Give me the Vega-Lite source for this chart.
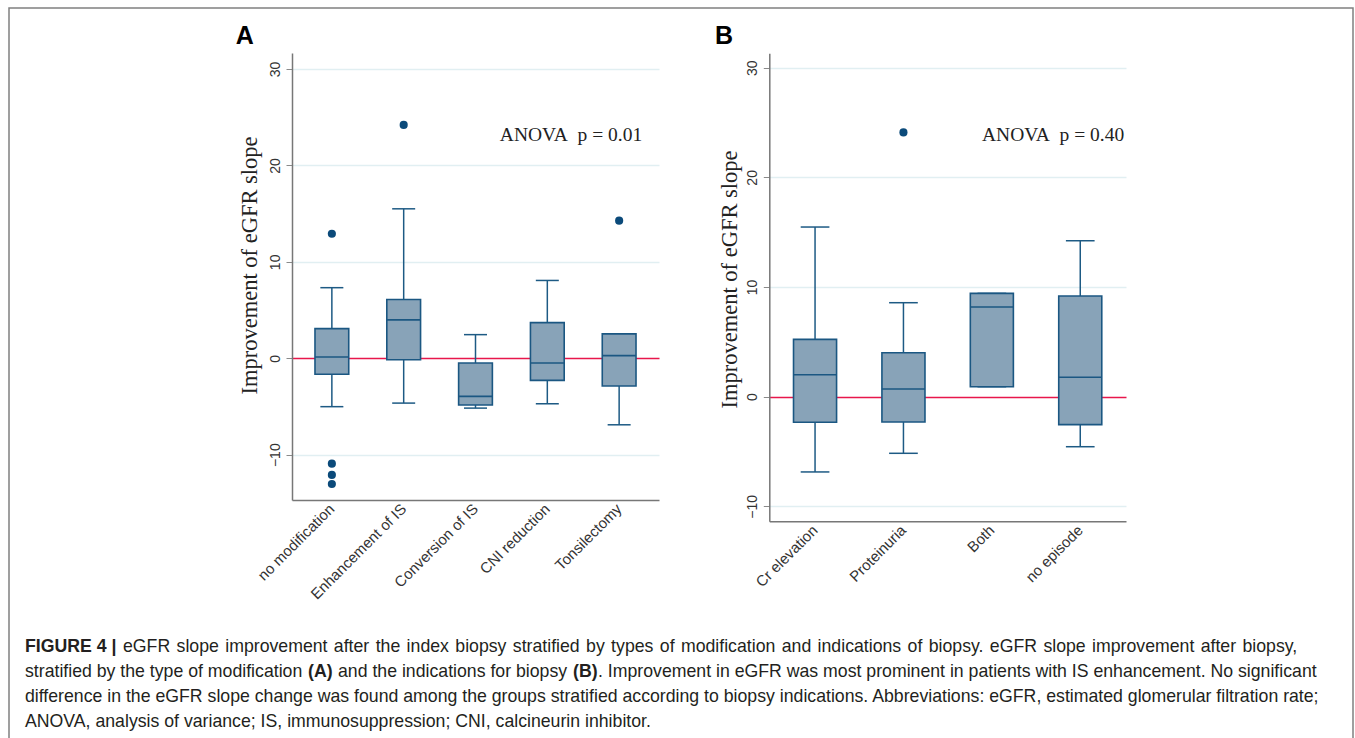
{
  "$schema": "https://vega.github.io/schema/vega-lite/v6.json",
  "width": 1344,
  "height": 760,
  "autosize": {"type": "none"},
  "padding": {"left": 9, "top": 8, "right": 2, "bottom": 0},
  "background": "white",
  "config": {
    "view": {"stroke": "#808080", "strokeWidth": 1.5},
    "axis": {"labelFont": "Liberation Sans", "labelColor": "#333333", "titleFont": "Liberation Serif", "titleFontWeight": "normal", "titleColor": "#222222"}
  },
  "datasets": {
    "boxA": [
      {"group": "no modification", "lo": -5.02, "q1": -1.66, "med": 0.13, "q3": 3.07, "hi": 7.32},
      {"group": "Enhancement of IS", "lo": -4.65, "q1": -0.15, "med": 3.98, "q3": 6.1, "hi": 15.5},
      {"group": "Conversion of IS", "lo": -5.17, "q1": -4.85, "med": -3.95, "q3": -0.49, "hi": 2.45},
      {"group": "CNI reduction", "lo": -4.72, "q1": -2.29, "med": -0.49, "q3": 3.7, "hi": 8.07},
      {"group": "Tonsilectomy", "lo": -6.9, "q1": -2.88, "med": 0.27, "q3": 2.53, "hi": 2.53}
    ],
    "outA": [
      {"group": "no modification", "value": 12.92},
      {"group": "no modification", "value": -10.93},
      {"group": "no modification", "value": -12.1},
      {"group": "no modification", "value": -13.04},
      {"group": "Enhancement of IS", "value": 24.2},
      {"group": "Tonsilectomy", "value": 14.27}
    ],
    "boxB": [
      {"group": "Cr elevation", "lo": -6.86, "q1": -2.33, "med": 2.0, "q3": 5.23, "hi": 15.47},
      {"group": "Proteinuria", "lo": -5.16, "q1": -2.31, "med": 0.7, "q3": 4.01, "hi": 8.57},
      {"group": "Both", "lo": 0.91, "q1": 0.91, "med": 8.18, "q3": 9.42, "hi": 9.42},
      {"group": "no episode", "lo": -4.56, "q1": -2.55, "med": 1.77, "q3": 9.18, "hi": 14.22}
    ],
    "outB": [
      {"group": "Proteinuria", "value": 24.1}
    ],
    "caption": [
      {"line": 1, "seg": "b0", "text": "FIGURE 4 |"},
      {"line": 1, "seg": "r0", "text": "eGFR \u200aslope \u200aimprovement \u200aafter \u200athe \u200aindex \u200abiopsy \u200astratified \u200aby \u200atypes \u200aof \u200amodification \u200aand \u200aindications \u200aof \u200abiopsy. \u200aeGFR \u200aslope \u200aimprovement \u200aafter \u200abiopsy,"},
      {"line": 2, "seg": "r1", "text": "stratified by the type of modification"},
      {"line": 2, "seg": "b1", "text": "(A)"},
      {"line": 2, "seg": "r2", "text": "and the indications for biopsy"},
      {"line": 2, "seg": "b2", "text": "(B)"},
      {"line": 2, "seg": "r3", "text": ". Improvement in eGFR was most prominent in patients with IS enhancement. No significant"},
      {"line": 3, "seg": "r1", "text": "difference in the eGFR slope change was found among the groups stratified according to biopsy indications. Abbreviations: eGFR, estimated glomerular filtration rate;"},
      {"line": 4, "seg": "r1", "text": "ANOVA, analysis of variance; IS, immunosuppression; CNI, calcineurin inhibitor."}
    ]
  },
  "layer": [
    {
      "layer": [
        {
          "data": {"name": "boxA"},
          "mark": {"type": "rule", "color": "#1d5a84", "strokeWidth": 1.5},
          "encoding": {
            "x": {"field": "group", "type": "nominal", "sort": null,
              "scale": {"domain": ["no modification", "Enhancement of IS", "Conversion of IS", "CNI reduction", "Tonsilectomy"], "range": [283, 650], "paddingInner": 0.53, "paddingOuter": 0.32},
              "axis": {"orient": "bottom", "offset": -268, "title": null, "labelAngle": -45, "labelAlign": "right", "labelBaseline": "middle", "labelFontSize": 15, "labelPadding": 6, "ticks": false, "grid": false, "domainColor": "#777777", "domainWidth": 1.5}},
            "y": {"field": "lo", "type": "quantitative", "title": "Improvement of eGFR slope",
              "scale": {"domain": [-14.7, 31.66], "range": [492, 45], "nice": false, "zero": false},
              "axis": {"orient": "left", "offset": -283, "values": [-10, 0, 10, 20, 30], "grid": true,
                "gridColor": {"condition": {"test": "datum.value === 0", "value": "#e8174b"}, "value": "#e1eff2"}, "gridWidth": 1.5,
                "tickSize": 6, "tickColor": "#8a8a8a", "domainColor": "#777777", "domainWidth": 1.5,
                "labelAngle": -90, "labelAlign": "center", "labelBaseline": "alphabetic", "labelPadding": 7, "labelFontSize": 14,
                "titleFontSize": 22.5, "titleX": -36, "titleY": 257, "titleAngle": -90, "titleAlign": "center", "titleBaseline": "alphabetic"}},
            "y2": {"field": "q1"}
          }
        },
        {
          "data": {"name": "boxA"},
          "mark": {"type": "rule", "color": "#1d5a84", "strokeWidth": 1.5},
          "encoding": {
            "x": {"field": "group", "type": "nominal", "sort": null},
            "y": {"field": "q3", "type": "quantitative", "title": "Improvement of eGFR slope"},
            "y2": {"field": "hi"}
          }
        },
        {
          "data": {"name": "boxA"},
          "mark": {"type": "tick", "orient": "horizontal", "size": 23, "thickness": 1.5, "color": "#1d5a84", "opacity": 1},
          "encoding": {
            "x": {"field": "group", "type": "nominal", "sort": null},
            "y": {"field": "lo", "type": "quantitative", "title": "Improvement of eGFR slope"}
          }
        },
        {
          "data": {"name": "boxA"},
          "mark": {"type": "tick", "orient": "horizontal", "size": 23, "thickness": 1.5, "color": "#1d5a84", "opacity": 1},
          "encoding": {
            "x": {"field": "group", "type": "nominal", "sort": null},
            "y": {"field": "hi", "type": "quantitative", "title": "Improvement of eGFR slope"}
          }
        },
        {
          "data": {"name": "boxA"},
          "mark": {"type": "bar", "fill": "#88a3b8", "stroke": "#1b5782", "strokeWidth": 1.6},
          "encoding": {
            "x": {"field": "group", "type": "nominal", "sort": null},
            "y": {"field": "q1", "type": "quantitative", "title": "Improvement of eGFR slope"},
            "y2": {"field": "q3"}
          }
        },
        {
          "data": {"name": "boxA"},
          "mark": {"type": "tick", "orient": "horizontal", "size": 33.8, "thickness": 1.6, "color": "#1b5782", "opacity": 1},
          "encoding": {
            "x": {"field": "group", "type": "nominal", "sort": null},
            "y": {"field": "med", "type": "quantitative", "title": "Improvement of eGFR slope"}
          }
        },
        {
          "data": {"name": "outA"},
          "mark": {"type": "circle", "size": 66, "color": "#0b4a7a", "opacity": 1},
          "encoding": {
            "x": {"field": "group", "type": "nominal", "sort": null},
            "y": {"field": "value", "type": "quantitative", "title": "Improvement of eGFR slope"}
          }
        },
        {
          "data": {"values": [{}]},
          "mark": {"type": "text", "text": "ANOVA\u00a0\u00a0p = 0.01", "font": "Liberation Serif", "fontSize": 19.5, "align": "right", "baseline": "alphabetic", "dx": 23, "color": "#222222"},
          "encoding": {
            "x": {"datum": "Tonsilectomy", "type": "nominal"},
            "y": {"datum": 22.53, "type": "quantitative"}
          }
        },
        {
          "data": {"values": [{}]},
          "mark": {"type": "text", "text": "A", "font": "Liberation Sans", "fontWeight": "bold", "fontSize": 25, "align": "left", "baseline": "alphabetic", "dx": -96, "color": "#000000"},
          "encoding": {
            "x": {"datum": "no modification", "type": "nominal"},
            "y": {"datum": 32.59, "type": "quantitative"}
          }
        }
      ]
    },
    {
      "layer": [
        {
          "data": {"name": "boxB"},
          "mark": {"type": "rule", "color": "#1d5a84", "strokeWidth": 1.5},
          "encoding": {
            "x": {"field": "group", "type": "nominal", "sort": null,
              "scale": {"domain": ["Cr elevation", "Proteinuria", "Both", "no episode"], "range": [760.3, 1117], "paddingInner": 0.513, "paddingOuter": 0.274},
              "axis": {"orient": "bottom", "offset": -246.7, "title": null, "labelAngle": -45, "labelAlign": "right", "labelBaseline": "middle", "labelFontSize": 15, "labelPadding": 6, "ticks": false, "grid": false, "domainColor": "#777777", "domainWidth": 1.5}},
            "y": {"field": "lo", "type": "quantitative", "title": "Improvement of eGFR slope",
              "scale": {"domain": [-11.36, 31.31], "range": [513.3, 45.3], "nice": false, "zero": false},
              "axis": {"orient": "left", "offset": -760.3, "values": [-10, 0, 10, 20, 30], "grid": true,
                "gridColor": {"condition": {"test": "datum.value === 0", "value": "#e8174b"}, "value": "#e1eff2"}, "gridWidth": 1.5,
                "tickSize": 6, "tickColor": "#8a8a8a", "domainColor": "#777777", "domainWidth": 1.5,
                "labelAngle": -90, "labelAlign": "center", "labelBaseline": "alphabetic", "labelPadding": 7, "labelFontSize": 14,
                "titleFontSize": 22.5, "titleX": -32.6, "titleY": 271, "titleAngle": -90, "titleAlign": "center", "titleBaseline": "alphabetic"}},
            "y2": {"field": "q1"}
          }
        },
        {
          "data": {"name": "boxB"},
          "mark": {"type": "rule", "color": "#1d5a84", "strokeWidth": 1.5},
          "encoding": {
            "x": {"field": "group", "type": "nominal", "sort": null},
            "y": {"field": "q3", "type": "quantitative", "title": "Improvement of eGFR slope"},
            "y2": {"field": "hi"}
          }
        },
        {
          "data": {"name": "boxB"},
          "mark": {"type": "tick", "orient": "horizontal", "size": 28.7, "thickness": 1.5, "color": "#1d5a84", "opacity": 1},
          "encoding": {
            "x": {"field": "group", "type": "nominal", "sort": null},
            "y": {"field": "lo", "type": "quantitative", "title": "Improvement of eGFR slope"}
          }
        },
        {
          "data": {"name": "boxB"},
          "mark": {"type": "tick", "orient": "horizontal", "size": 28.7, "thickness": 1.5, "color": "#1d5a84", "opacity": 1},
          "encoding": {
            "x": {"field": "group", "type": "nominal", "sort": null},
            "y": {"field": "hi", "type": "quantitative", "title": "Improvement of eGFR slope"}
          }
        },
        {
          "data": {"name": "boxB"},
          "mark": {"type": "bar", "fill": "#88a3b8", "stroke": "#1b5782", "strokeWidth": 1.6},
          "encoding": {
            "x": {"field": "group", "type": "nominal", "sort": null},
            "y": {"field": "q1", "type": "quantitative", "title": "Improvement of eGFR slope"},
            "y2": {"field": "q3"}
          }
        },
        {
          "data": {"name": "boxB"},
          "mark": {"type": "tick", "orient": "horizontal", "size": 43, "thickness": 1.6, "color": "#1b5782", "opacity": 1},
          "encoding": {
            "x": {"field": "group", "type": "nominal", "sort": null},
            "y": {"field": "med", "type": "quantitative", "title": "Improvement of eGFR slope"}
          }
        },
        {
          "data": {"name": "outB"},
          "mark": {"type": "circle", "size": 66, "color": "#0b4a7a", "opacity": 1},
          "encoding": {
            "x": {"field": "group", "type": "nominal", "sort": null},
            "y": {"field": "value", "type": "quantitative", "title": "Improvement of eGFR slope"}
          }
        },
        {
          "data": {"values": [{}]},
          "mark": {"type": "text", "text": "ANOVA\u00a0\u00a0p = 0.40", "font": "Liberation Serif", "fontSize": 19.5, "align": "right", "baseline": "alphabetic", "dx": 44, "color": "#222222"},
          "encoding": {
            "x": {"datum": "no episode", "type": "nominal"},
            "y": {"datum": 23.32, "type": "quantitative"}
          }
        },
        {
          "data": {"values": [{}]},
          "mark": {"type": "text", "text": "B", "font": "Liberation Sans", "fontWeight": "bold", "fontSize": 25, "align": "left", "baseline": "alphabetic", "dx": -100, "color": "#000000"},
          "encoding": {
            "x": {"datum": "Cr elevation", "type": "nominal"},
            "y": {"datum": 32.16, "type": "quantitative"}
          }
        }
      ]
    },
    {
      "data": {"name": "caption"},
      "encoding": {
        "x": {"datum": 0, "type": "quantitative", "scale": {"domain": [0, 1], "range": [16, 1340]}, "axis": null},
        "y": {"field": "line", "type": "quantitative", "scale": {"domain": [1, 4], "range": [644, 719], "zero": false, "nice": false}, "axis": null},
        "text": {"field": "text", "type": "nominal"}
      },
      "layer": [
        {"transform": [{"filter": "datum.seg === 'b0'"}], "mark": {"type": "text", "font": "Liberation Sans", "fontSize": 17.7, "fontWeight": "bold", "align": "left", "baseline": "alphabetic", "color": "#231f20"}},
        {"transform": [{"filter": "datum.seg === 'r0'"}], "mark": {"type": "text", "font": "Liberation Sans", "fontSize": 17.7, "align": "left", "baseline": "alphabetic", "dx": 98, "color": "#231f20"}},
        {"transform": [{"filter": "datum.seg === 'r1'"}], "mark": {"type": "text", "font": "Liberation Sans", "fontSize": 17.7, "align": "left", "baseline": "alphabetic", "color": "#231f20"}},
        {"transform": [{"filter": "datum.seg === 'b1'"}], "mark": {"type": "text", "font": "Liberation Sans", "fontSize": 17.7, "fontWeight": "bold", "align": "left", "baseline": "alphabetic", "dx": 283, "color": "#231f20"}},
        {"transform": [{"filter": "datum.seg === 'r2'"}], "mark": {"type": "text", "font": "Liberation Sans", "fontSize": 17.7, "align": "left", "baseline": "alphabetic", "dx": 313, "color": "#231f20"}},
        {"transform": [{"filter": "datum.seg === 'b2'"}], "mark": {"type": "text", "font": "Liberation Sans", "fontSize": 17.7, "fontWeight": "bold", "align": "left", "baseline": "alphabetic", "dx": 548, "color": "#231f20"}},
        {"transform": [{"filter": "datum.seg === 'r3'"}], "mark": {"type": "text", "font": "Liberation Sans", "fontSize": 17.7, "align": "left", "baseline": "alphabetic", "dx": 573, "color": "#231f20"}}
      ]
    }
  ],
  "resolve": {"scale": {"x": "independent", "y": "independent"}}
}
